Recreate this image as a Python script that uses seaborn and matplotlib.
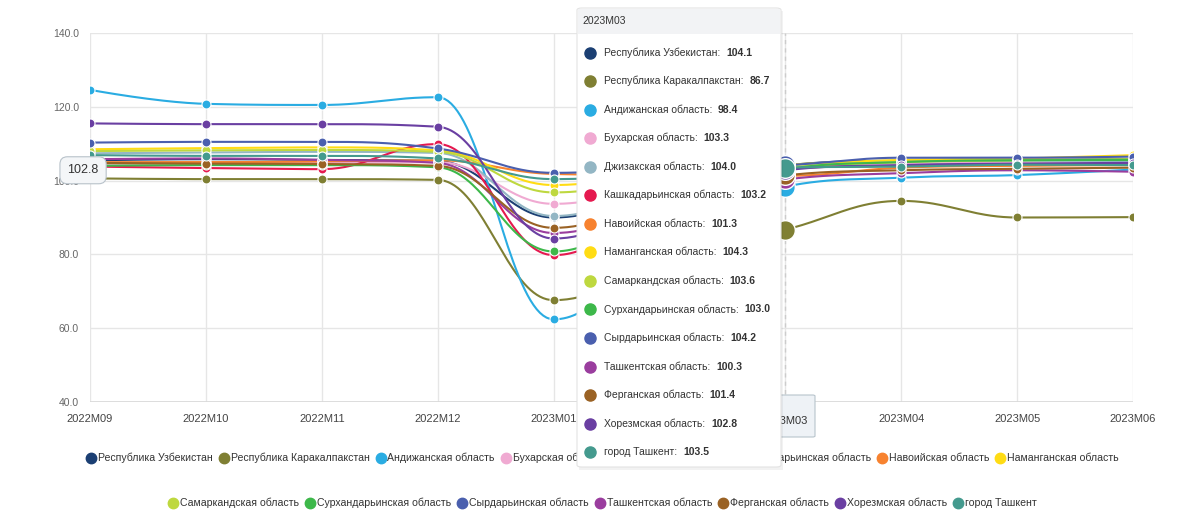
import numpy as np
import pandas as pd
import matplotlib
matplotlib.use("Agg")
import matplotlib.pyplot as plt
import seaborn as sns
from matplotlib.lines import Line2D
from matplotlib.patches import FancyBboxPatch, Rectangle

# --- data -------------------------------------------------------------
periods = ['2022M09', '2022M10', '2022M11', '2022M12', '2023M01',
           '2023M02', '2023M03', '2023M04', '2023M05', '2023M06']

regions = ['Республика Узбекистан', 'Республика Каракалпакстан', 'Андижанская область',
           'Бухарская область', 'Джизакская область', 'Кашкадарьинская область',
           'Навоийская область', 'Наманганская область', 'Самаркандская область',
           'Сурхандарьинская область', 'Сырдарьинская область', 'Ташкентская область',
           'Ферганская область', 'Хорезмская область', 'город Ташкент']

uzbekistan   = [105.5, 105.8, 105.6, 105.3, 90.0, 98.5, 104.1, 105.4, 105.6, 105.8]
karakalpak   = [100.6, 100.4, 100.4, 100.2, 67.6, 79.0, 86.7, 94.5, 90.0, 90.1]
andijan      = [124.6, 120.8, 120.5, 122.6, 62.4, 86.0, 98.4, 100.8, 101.5, 103.0]
bukhara      = [104.5, 104.7, 104.8, 105.0, 93.7, 99.5, 103.3, 104.5, 104.8, 104.8]
jizzakh      = [107.4, 107.6, 107.8, 107.5, 90.4, 99.0, 104.0, 105.2, 105.4, 105.3]
kashkadarya  = [103.8, 103.4, 103.1, 109.9, 79.8, 95.5, 103.2, 104.0, 104.2, 104.3]
navoi        = [105.0, 105.0, 105.2, 105.5, 101.8, 101.5, 101.3, 103.5, 104.0, 104.2]
namangan     = [108.5, 108.8, 109.0, 108.2, 98.8, 102.5, 104.3, 105.6, 106.0, 106.9]
samarkand    = [108.0, 108.2, 108.3, 107.8, 96.8, 101.0, 103.6, 105.0, 105.5, 105.8]
surkhandarya = [104.0, 104.2, 104.2, 103.6, 80.8, 95.0, 103.0, 105.0, 105.5, 105.6]
syrdarya     = [110.3, 110.5, 110.5, 108.7, 102.1, 103.5, 104.2, 106.2, 106.2, 106.5]
tashkent_obl = [105.8, 106.0, 105.6, 104.8, 85.8, 94.5, 100.3, 102.0, 102.8, 102.4]
fergana      = [104.8, 104.6, 104.5, 104.0, 87.2, 96.0, 101.4, 102.8, 103.2, 103.5]
khorezm      = [115.5, 115.3, 115.3, 114.6, 84.3, 95.5, 102.8, 104.2, 104.6, 104.8]
tashkent_city = [106.9, 106.7, 106.7, 106.0, 100.4, 102.0, 103.5, 103.8, 104.3, 104.2]

series = [uzbekistan, karakalpak, andijan, bukhara, jizzakh, kashkadarya, navoi,
          namangan, samarkand, surkhandarya, syrdarya, tashkent_obl, fergana,
          khorezm, tashkent_city]

colors = ['#1b3f73', '#7f7f33', '#2aace2', '#f0aad2', '#93b6c4', '#e5194f',
          '#f7822f', '#ffdc14', '#bed83f', '#3db84a', '#4a5fae', '#9a3d9e',
          '#9a6224', '#6a3fa2', '#449a8e']

hover_period = '2023M03'
crosshair_value = 102.8


def spline_curve(xs, ys, n=40):
    # highcharts-like spline smoothing between the data points
    xs = list(map(float, xs)); ys = list(map(float, ys))
    sm, den = 1.5, 2.5
    lc, rc = [], []
    for i in range(len(xs)):
        px, py = xs[i], ys[i]
        if 0 < i < len(xs) - 1:
            lx, ly, nx, ny = xs[i-1], ys[i-1], xs[i+1], ys[i+1]
            lcx, lcy = (sm*px + lx)/den, (sm*py + ly)/den
            rcx, rcy = (sm*px + nx)/den, (sm*py + ny)/den
            corr = (rcy - lcy)*(rcx - px)/(rcx - lcx) + py - rcy
            lcy += corr; rcy += corr
            if lcy > ly and lcy > py:
                lcy = max(ly, py); rcy = 2*py - lcy
            elif lcy < ly and lcy < py:
                lcy = min(ly, py); rcy = 2*py - lcy
            if rcy > ny and rcy > py:
                rcy = max(ny, py); lcy = 2*py - rcy
            elif rcy < ny and rcy < py:
                rcy = min(ny, py); lcy = 2*py - rcy
            lc.append((lcx, lcy)); rc.append((rcx, rcy))
        else:
            lc.append((px, py)); rc.append((px, py))
    out_x, out_y = [xs[0]], [ys[0]]
    t = np.linspace(0, 1, n)[1:]
    for i in range(1, len(xs)):
        p0 = np.array([xs[i-1], ys[i-1]]); p1 = np.array(rc[i-1])
        p2 = np.array(lc[i]); p3 = np.array([xs[i], ys[i]])
        pts = ((1-t)**3)[:, None]*p0 + (3*(1-t)**2*t)[:, None]*p1 \
            + (3*(1-t)*t**2)[:, None]*p2 + (t**3)[:, None]*p3
        out_x.extend(pts[:, 0]); out_y.extend(pts[:, 1])
    return np.array(out_x), np.array(out_y)


sns.set_theme(style="white")
plt.rcParams['font.family'] = ['Liberation Sans', 'DejaVu Sans']

fig = plt.figure(figsize=(11.94, 5.13), dpi=100)
ax = fig.add_axes([90/1194, 1-402/513, (1133-90)/1194, (402-33)/513])

xpos = np.arange(len(periods))
hi = periods.index(hover_period)

for name, vals, col in zip(regions, series, colors):
    sx, sy = spline_curve(xpos, vals)
    sns.lineplot(x=sx, y=sy, ax=ax, color=col, linewidth=1.5, sort=False,
                 estimator=None, zorder=3)
    df = pd.DataFrame({'x': xpos, 'y': vals})
    sns.scatterplot(data=df.drop(index=hi), x='x', y='y', ax=ax, color=col,
                    s=42, edgecolor='white', linewidth=0.8, zorder=4)
    sns.scatterplot(data=df.iloc[[hi]], x='x', y='y', ax=ax, color=col,
                    s=200, edgecolor='white', linewidth=1.0, zorder=5)

ax.set_xlim(0, len(periods) - 1)
ax.set_ylim(40, 140)
ax.set_yticks(np.arange(40, 141, 20))
ax.set_yticklabels([f'{v:.1f}' for v in np.arange(40, 141, 20)], fontsize=7.5, color='#666666')
ax.set_xticks(xpos)
# the tick labels under the tooltip / crosshair label are not visible
ax.set_xticklabels(['' if i in (hi - 1, hi) else p for i, p in enumerate(periods)],
                   fontsize=8, color='#444444')
ax.tick_params(axis='both', length=0, pad=8)
ax.tick_params(axis='x', pad=9)
ax.grid(True, color='#e6e6e6', linewidth=1)
ax.set_axisbelow(True)
for s in ax.spines.values():
    s.set_visible(False)
ax.axhline(40, color='#d8d8d8', linewidth=1.2, zorder=1)
ax.set_xlabel(''); ax.set_ylabel('')

# crosshair at hovered period
ax.axvline(hi, color='#cccccc', linestyle=(0, (3, 3)), linewidth=1, zorder=2)

# y crosshair label
ax.annotate(f'{crosshair_value:.1f}', xy=(0, crosshair_value), xycoords=('axes fraction', 'data'),
            xytext=(-5, 0), textcoords='offset points', ha='center', va='center',
            fontsize=9, color='#333333', zorder=6, annotation_clip=False,
            bbox=dict(boxstyle='round,pad=0.6', fc='#f4f6f8', ec='#b8c2ca', lw=0.8))

# x crosshair label
fig.patches.append(FancyBboxPatch((755/1194, 1-437/513), 60/1194, 42/513,
                                  boxstyle='round,pad=0,rounding_size=0.002',
                                  transform=fig.transFigure, fc='#eef2f6', ec='#b8c4cc',
                                  lw=0.8, zorder=2))
fig.text(785/1194, 1-421/513, hover_period, ha='center', va='center',
         fontsize=8, color='#333333', zorder=3)

# legend (two rows)
handles = [Line2D([], [], marker='o', linestyle='', markersize=7.5, color=c,
                  markeredgecolor=c) for c in colors]
leg1 = fig.legend(handles[:8], regions[:8], loc='center', ncol=8,
                  bbox_to_anchor=(0.505, 1-458/513), frameon=False, fontsize=7.6,
                  handlelength=0.7, handletextpad=0.3, columnspacing=0.7,
                  labelcolor='#333333')
leg2 = fig.legend(handles[8:], regions[8:], loc='center', ncol=7,
                  bbox_to_anchor=(0.505, 1-503/513), frameon=False, fontsize=7.6,
                  handlelength=0.7, handletextpad=0.3, columnspacing=0.7,
                  labelcolor='#333333')
leg1.set_zorder(4); leg2.set_zorder(4)

# tooltip
tx0, ty0, tx1, ty1 = 577, 8, 781, 467
fig.patches.append(Rectangle((tx0/1194 + 0.002, 1-(ty1+3)/513), (tx1-tx0)/1194, (ty1-ty0)/513,
                             transform=fig.transFigure, fc='#000000', alpha=0.05,
                             ec='none', zorder=9))
fig.patches.append(FancyBboxPatch((tx0/1194, 1-ty1/513), (tx1-tx0)/1194, (ty1-ty0)/513,
                                  boxstyle='round,pad=0,rounding_size=0.004',
                                  transform=fig.transFigure, fc='white', ec='#e3e3e3',
                                  lw=0.8, zorder=10))
fig.patches.append(Rectangle((tx0/1194 + 0.0005, 1-34/513), (tx1-tx0)/1194 - 0.001, (34-ty0-1)/513,
                             transform=fig.transFigure, fc='#f2f3f5', ec='none', zorder=11))
fig.text(582/1194, 1-21/513, hover_period, ha='left', va='center', fontsize=7.5,
         color='#333333', zorder=12)
row_y0, row_dy = 52.5, 28.55
renderer = fig.canvas.get_renderer()
for k, (name, vals, col) in enumerate(zip(regions, series, colors)):
    yy = 1 - (row_y0 + k*row_dy)/513
    fig.lines.append(Line2D([590/1194], [yy], marker='o', markersize=8, color=col,
                            transform=fig.transFigure, zorder=12))
    t = fig.text(604/1194, yy, f'{name}:  ', ha='left', va='center', fontsize=7.5,
                 color='#333333', zorder=12)
    bb = t.get_window_extent(renderer=renderer)
    fig.text(bb.x1/1194, yy, f'{vals[hi]:.1f}', ha='left', va='center', fontsize=7.5,
             fontweight='bold', color='#333333', zorder=12)

plt.savefig('out.png', dpi=100)
